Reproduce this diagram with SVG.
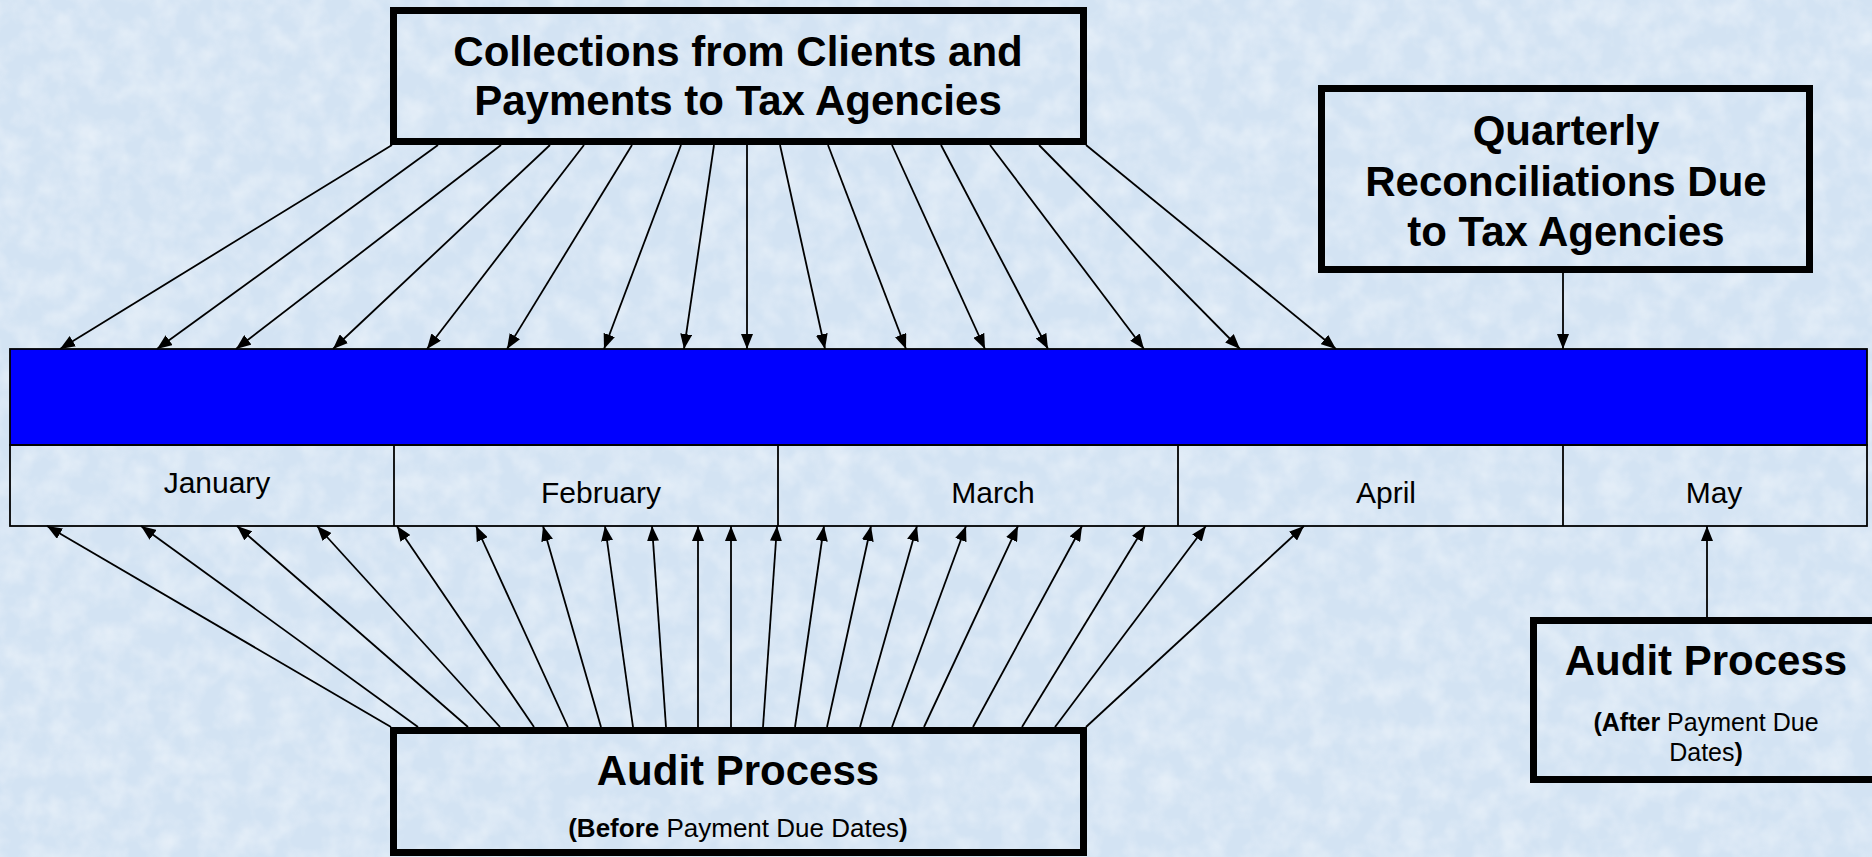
<svg xmlns="http://www.w3.org/2000/svg" width="1872" height="857" viewBox="0 0 1872 857">
<defs>
<style>
.box{fill:none;stroke:#000;stroke-width:7}
.t{font-family:"Liberation Sans",Arial,sans-serif;fill:#000;text-anchor:middle}
.big{font-size:42px;font-weight:bold}
.sub{font-size:26px}
.sub2{font-size:25px}
.b{font-weight:bold}
.mon{font-size:30px}
.cn{stroke:#000;stroke-width:1.8;fill:none;marker-end:url(#ah)}
.thin{fill:none;stroke:#000;stroke-width:1.8}
</style>
<marker id="ah" markerUnits="userSpaceOnUse" markerWidth="15" markerHeight="12" refX="15" refY="6" orient="auto" viewBox="0 0 15 12">
<path d="M0,0 L15,6 L0,12 z" fill="#000"/>
</marker>
<filter id="tex" x="0" y="0" width="100%" height="100%">
<feTurbulence type="fractalNoise" baseFrequency="0.04" numOctaves="3" seed="3" result="n"/>
<feColorMatrix type="matrix" values="0 0 0 0 1  0 0 0 0 1  0 0 0 0 1  0 0 0 -1.6 1.05" />
</filter>
</defs>
<rect width="1872" height="857" fill="#d3e3f3"/>
<rect width="1872" height="857" filter="url(#tex)" opacity="0.45"/>

<g id="timeline">
<rect x="10" y="349" width="1857" height="96" fill="#0000ff" stroke="#000" stroke-width="1.8"/>
<rect class="thin" x="10" y="445" width="1857" height="81"/>
<line class="thin" x1="394" y1="445" x2="394" y2="526"/>
<line class="thin" x1="778" y1="445" x2="778" y2="526"/>
<line class="thin" x1="1178" y1="445" x2="1178" y2="526"/>
<line class="thin" x1="1563" y1="445" x2="1563" y2="526"/>
<text class="t mon" x="217" y="493">January</text>
<text class="t mon" x="601" y="503">February</text>
<text class="t mon" x="993" y="503">March</text>
<text class="t mon" x="1386" y="503">April</text>
<text class="t mon" x="1714" y="503">May</text>
</g>

<g id="collections">
<rect class="box" x="393.5" y="10.5" width="690" height="131"/>
<text class="t big" x="738" y="66">Collections from Clients and</text>
<text class="t big" x="738" y="115">Payments to Tax Agencies</text>
</g>

<g id="quarterly">
<rect class="box" x="1321.5" y="88.5" width="488" height="181"/>
<text class="t big" x="1566" y="145">Quarterly</text>
<text class="t big" x="1566" y="196">Reconciliations Due</text>
<text class="t big" x="1566" y="246">to Tax Agencies</text>
</g>

<g id="audit-before">
<rect class="box" x="393.5" y="730.5" width="690" height="122"/>
<text class="t big" x="738" y="785">Audit Process</text>
<text class="t sub" x="738" y="837"><tspan class="b">(Before</tspan> Payment Due Dates<tspan class="b">)</tspan></text>
</g>

<g id="audit-after">
<rect class="box" x="1533.5" y="620.5" width="400" height="159"/>
<text class="t big" x="1706" y="675">Audit Process</text>
<text class="t sub2" x="1706" y="731"><tspan class="b">(After</tspan> Payment Due</text>
<text class="t sub2" x="1706" y="761">Dates<tspan class="b">)</tspan></text>
</g>

<g id="connectors">
<line class="cn" x1="392" y1="145" x2="60" y2="349"/>
<line class="cn" x1="438" y1="145" x2="157" y2="349"/>
<line class="cn" x1="501" y1="145" x2="236" y2="349"/>
<line class="cn" x1="550" y1="145" x2="333" y2="349"/>
<line class="cn" x1="584" y1="145" x2="427" y2="349"/>
<line class="cn" x1="632" y1="145" x2="507" y2="349"/>
<line class="cn" x1="681" y1="145" x2="604" y2="349"/>
<line class="cn" x1="714" y1="145" x2="684" y2="349"/>
<line class="cn" x1="747" y1="145" x2="747" y2="349"/>
<line class="cn" x1="780" y1="145" x2="825" y2="349"/>
<line class="cn" x1="828" y1="145" x2="906" y2="349"/>
<line class="cn" x1="892" y1="145" x2="985" y2="349"/>
<line class="cn" x1="941" y1="145" x2="1048" y2="349"/>
<line class="cn" x1="990" y1="145" x2="1144" y2="349"/>
<line class="cn" x1="1039" y1="145" x2="1240" y2="349"/>
<line class="cn" x1="1086" y1="145" x2="1336" y2="349"/>

<line class="cn" x1="1563" y1="273" x2="1563" y2="349"/>

<line class="cn" x1="391" y1="727" x2="47" y2="526"/>
<line class="cn" x1="418" y1="727" x2="141" y2="526"/>
<line class="cn" x1="468" y1="727" x2="237" y2="526"/>
<line class="cn" x1="500" y1="727" x2="317" y2="526"/>
<line class="cn" x1="534" y1="727" x2="397" y2="526"/>
<line class="cn" x1="568" y1="727" x2="476" y2="526"/>
<line class="cn" x1="601" y1="727" x2="543" y2="526"/>
<line class="cn" x1="633" y1="727" x2="605" y2="526"/>
<line class="cn" x1="666" y1="727" x2="652" y2="526"/>
<line class="cn" x1="698" y1="727" x2="698" y2="526"/>
<line class="cn" x1="731" y1="727" x2="731" y2="526"/>
<line class="cn" x1="763" y1="727" x2="777" y2="526"/>
<line class="cn" x1="795" y1="727" x2="824" y2="526"/>
<line class="cn" x1="827" y1="727" x2="871" y2="526"/>
<line class="cn" x1="860" y1="727" x2="917" y2="526"/>
<line class="cn" x1="892" y1="727" x2="966" y2="526"/>
<line class="cn" x1="924" y1="727" x2="1018" y2="526"/>
<line class="cn" x1="973" y1="727" x2="1082" y2="526"/>
<line class="cn" x1="1022" y1="727" x2="1145" y2="526"/>
<line class="cn" x1="1055" y1="727" x2="1206" y2="526"/>
<line class="cn" x1="1086" y1="727" x2="1304" y2="526"/>

<line class="cn" x1="1707" y1="617" x2="1707" y2="526"/>
</g>
</svg>
